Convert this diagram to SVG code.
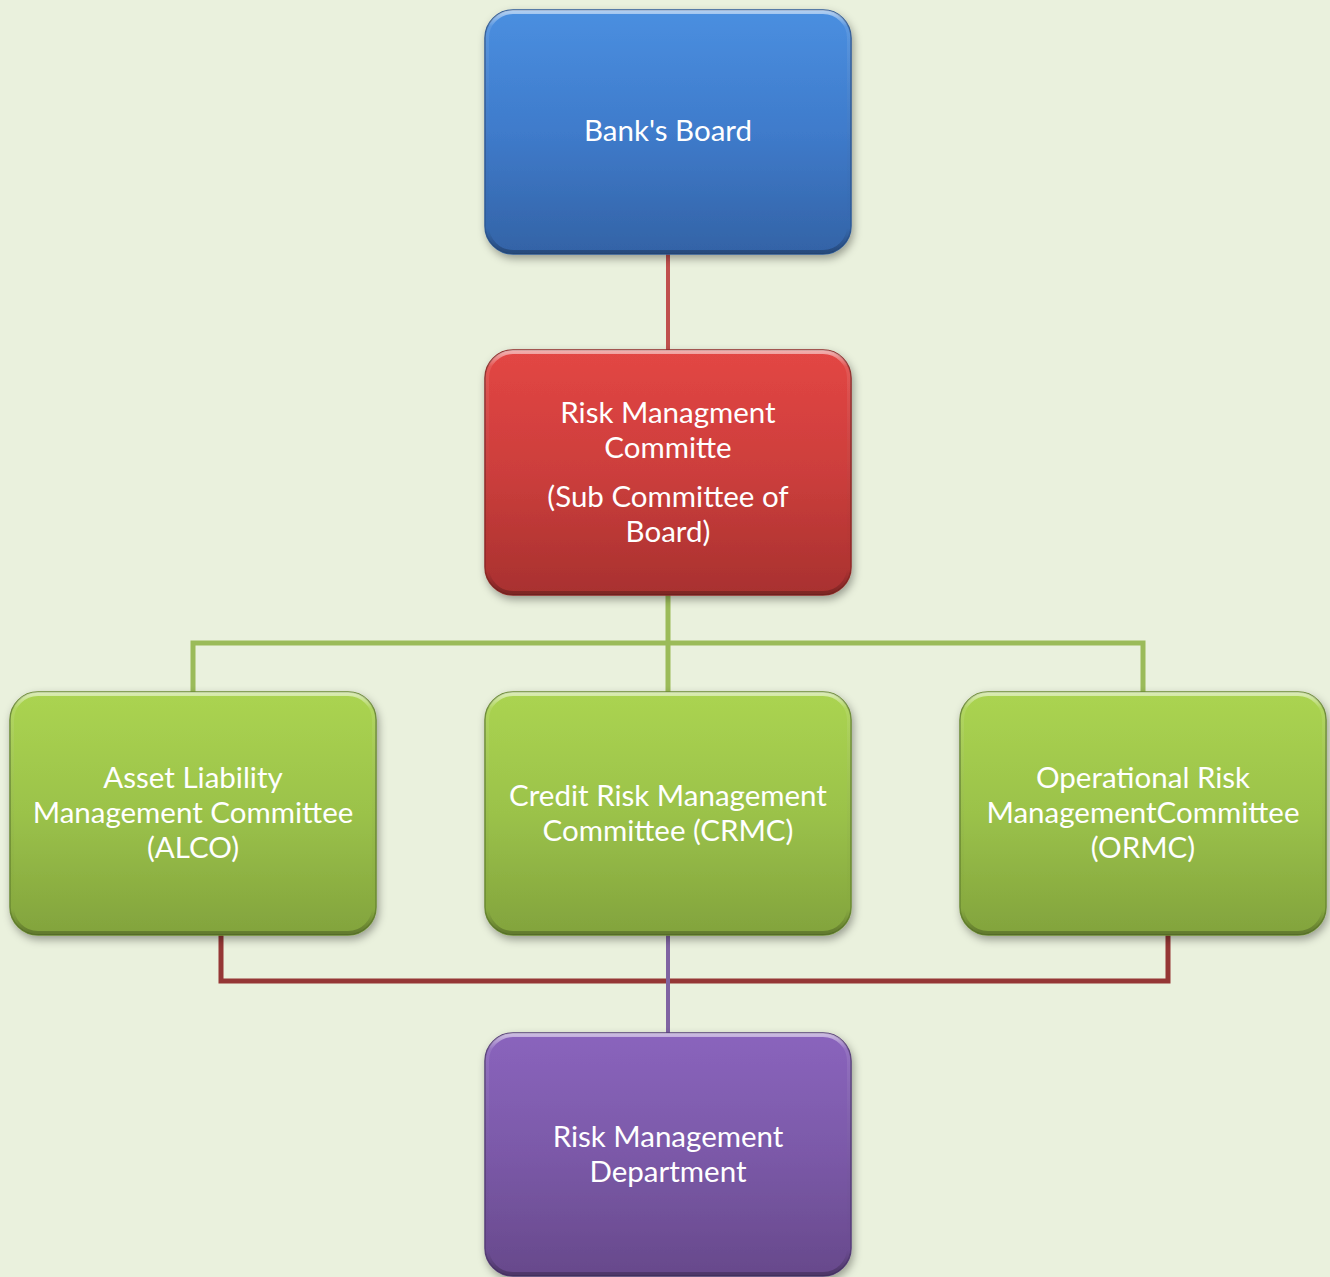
<svg xmlns="http://www.w3.org/2000/svg" width="1330" height="1277" viewBox="0 0 1330 1277">
  <defs>
    <linearGradient id="gBlue" x1="0" y1="0" x2="0" y2="1">
      <stop offset="0" stop-color="#4a8fe0"/>
      <stop offset="0.5" stop-color="#3f7bcb"/>
      <stop offset="1" stop-color="#3363a6"/>
    </linearGradient>
    <linearGradient id="gRed" x1="0" y1="0" x2="0" y2="1">
      <stop offset="0" stop-color="#e34644"/>
      <stop offset="0.5" stop-color="#cc3e3c"/>
      <stop offset="1" stop-color="#a8312f"/>
    </linearGradient>
    <linearGradient id="gGreen" x1="0" y1="0" x2="0" y2="1">
      <stop offset="0" stop-color="#abd451"/>
      <stop offset="0.5" stop-color="#9bc24a"/>
      <stop offset="1" stop-color="#82a33d"/>
    </linearGradient>
    <linearGradient id="gPurple" x1="0" y1="0" x2="0" y2="1">
      <stop offset="0" stop-color="#8a64bd"/>
      <stop offset="0.5" stop-color="#7b59a8"/>
      <stop offset="1" stop-color="#67498b"/>
    </linearGradient>
    <linearGradient id="hl" x1="0" y1="0" x2="0" y2="1">
      <stop offset="0" stop-color="#ffffff" stop-opacity="0.55"/>
      <stop offset="0.06" stop-color="#ffffff" stop-opacity="0.1"/>
      <stop offset="0.9" stop-color="#000000" stop-opacity="0"/>
      <stop offset="1" stop-color="#000000" stop-opacity="0.25"/>
    </linearGradient>
    <filter id="shadow" x="-10%" y="-10%" width="125%" height="125%">
      <feDropShadow dx="2" dy="4" stdDeviation="4" flood-color="#000000" flood-opacity="0.35"/>
    </filter>
  </defs>
  <style>
    .box { stroke-width: 1.5; filter: url(#shadow); }
    .bevel { fill: none; stroke: url(#hl); stroke-width: 4; }
    .lbl { font-family: Lato, "Open Sans", "Liberation Sans", sans-serif; font-size: 29.5px; fill: #ffffff; text-anchor: middle; }
    .c-red { stroke: #c0504d; stroke-width: 4; fill: none; }
    .c-green { stroke: #9bbb59; stroke-width: 5; fill: none; }
    .c-dred { stroke: #953735; stroke-width: 5; fill: none; }
    .c-purple { stroke: #8064a2; stroke-width: 4; fill: none; }
  </style>
  <rect x="0" y="0" width="1330" height="1277" fill="#eaf1dd"/>

  <g id="connectors">
    <line class="c-red" x1="668" y1="252" x2="668" y2="352"/>
    <path class="c-green" d="M668 593 V692 M193 692 V643 H1143 V692"/>
    <path class="c-dred" d="M221 933 V981 H1168 V933"/>
    <line class="c-purple" x1="668" y1="933" x2="668" y2="1035"/>
  </g>

  <g id="banks-board">
    <rect class="box" x="485" y="10" width="366" height="244" rx="28" fill="url(#gBlue)" stroke="#2e5a96"/>
    <rect class="bevel" x="487" y="12" width="362" height="240" rx="26"/>
    <text class="lbl" x="668" y="141">Bank's Board</text>
  </g>

  <g id="risk-management-committee">
    <rect class="box" x="485" y="350" width="366" height="245" rx="28" fill="url(#gRed)" stroke="#8f2a28"/>
    <rect class="bevel" x="487" y="352" width="362" height="241" rx="26"/>
    <text class="lbl" x="668" y="423">Risk Managment</text>
    <text class="lbl" x="668" y="458">Committe</text>
    <text class="lbl" x="668" y="507">(Sub Committee of</text>
    <text class="lbl" x="668" y="542">Board)</text>
  </g>

  <g id="alco">
    <rect class="box" x="10" y="692" width="366" height="243" rx="28" fill="url(#gGreen)" stroke="#6b8a32"/>
    <rect class="bevel" x="12" y="694" width="362" height="239" rx="26"/>
    <text class="lbl" x="193" y="788">Asset Liability</text>
    <text class="lbl" x="193" y="823">Management Committee</text>
    <text class="lbl" x="193" y="858">(ALCO)</text>
  </g>

  <g id="crmc">
    <rect class="box" x="485" y="692" width="366" height="243" rx="28" fill="url(#gGreen)" stroke="#6b8a32"/>
    <rect class="bevel" x="487" y="694" width="362" height="239" rx="26"/>
    <text class="lbl" x="668" y="806">Credit Risk Management</text>
    <text class="lbl" x="668" y="841">Committee (CRMC)</text>
  </g>

  <g id="ormc">
    <rect class="box" x="960" y="692" width="366" height="243" rx="28" fill="url(#gGreen)" stroke="#6b8a32"/>
    <rect class="bevel" x="962" y="694" width="362" height="239" rx="26"/>
    <text class="lbl" x="1143" y="788">Operational Risk</text>
    <text class="lbl" x="1143" y="823">ManagementCommittee</text>
    <text class="lbl" x="1143" y="858">(ORMC)</text>
  </g>

  <g id="risk-management-department">
    <rect class="box" x="485" y="1033" width="366" height="243" rx="28" fill="url(#gPurple)" stroke="#563c78"/>
    <rect class="bevel" x="487" y="1035" width="362" height="239" rx="26"/>
    <text class="lbl" x="668" y="1147">Risk Management</text>
    <text class="lbl" x="668" y="1182">Department</text>
  </g>
</svg>
